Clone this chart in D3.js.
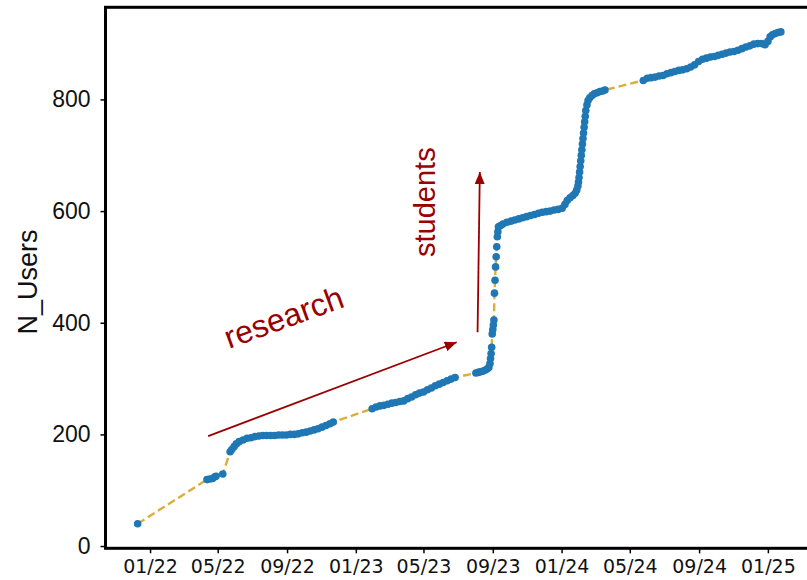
<!DOCTYPE html>
<html><head><meta charset="utf-8">
<script src="https://cdn.jsdelivr.net/npm/d3@7"></script>
<style>body{margin:0;background:#fff;}svg{display:block;}</style>
</head><body>
<svg id="c" width="807" height="580"></svg>
<script>
const dates = [
"2021-12-10",
"2022-04-12","2022-04-17","2022-04-22","2022-04-26","2022-04-28","2022-05-10",
"2022-05-23","2022-05-26","2022-05-30","2022-06-03","2022-06-08","2022-06-15","2022-06-22","2022-06-29",
"2022-07-06","2022-07-13","2022-07-20","2022-07-27","2022-08-03","2022-08-10","2022-08-17","2022-08-24",
"2022-08-31","2022-09-07","2022-09-14","2022-09-21","2022-09-28","2022-10-05","2022-10-12","2022-10-19",
"2022-10-26","2022-11-02","2022-11-09","2022-11-16","2022-11-22",
"2023-01-30","2023-02-06","2023-02-13","2023-02-20","2023-02-27","2023-03-06","2023-03-13","2023-03-20",
"2023-03-27","2023-04-03","2023-04-10","2023-04-17","2023-04-24","2023-05-01","2023-05-08","2023-05-15",
"2023-05-22","2023-05-29","2023-06-05","2023-06-12","2023-06-19","2023-06-26",
"2023-08-02","2023-08-06","2023-08-10","2023-08-14","2023-08-18","2023-08-22","2023-08-25",
"2023-08-27","2023-08-28","2023-08-29","2023-08-30","2023-08-31","2023-09-01","2023-09-02","2023-09-03",
"2023-09-04","2023-09-05","2023-09-06","2023-09-07","2023-09-08","2023-09-09","2023-09-10","2023-09-11",
"2023-09-15","2023-09-19","2023-09-26","2023-10-03","2023-10-10","2023-10-17","2023-10-24","2023-10-31",
"2023-11-07","2023-11-14","2023-11-21","2023-11-28","2023-12-05","2023-12-12","2023-12-19","2023-12-26",
"2024-01-02","2024-01-07","2024-01-11","2024-01-16","2024-01-21","2024-01-25","2024-01-28",
"2024-01-30","2024-01-31","2024-02-01","2024-02-02","2024-02-03","2024-02-04","2024-02-05","2024-02-06",
"2024-02-07","2024-02-08","2024-02-09","2024-02-10","2024-02-11","2024-02-12","2024-02-13","2024-02-15",
"2024-02-17","2024-02-20","2024-02-24","2024-02-28","2024-03-04","2024-03-09","2024-03-14","2024-03-18",
"2024-05-25","2024-06-01","2024-06-08","2024-06-15","2024-06-22","2024-06-29","2024-07-06","2024-07-13",
"2024-07-20","2024-07-27","2024-08-03","2024-08-10","2024-08-17","2024-08-24","2024-08-31","2024-09-07",
"2024-09-14","2024-09-21","2024-09-28","2024-10-05","2024-10-12","2024-10-19","2024-10-26","2024-11-02",
"2024-11-09","2024-11-16","2024-11-23","2024-11-30","2024-12-07","2024-12-14","2024-12-21","2024-12-27",
"2025-01-01","2025-01-05","2025-01-09","2025-01-14","2025-01-19","2025-01-24"
];
const users = [
40,
119,120,121,124,125,129,
169,173,178,183,187,190,193,194,
196,197,198,198,198,198,199,199,
199,200,200,201,203,204,206,208,
210,213,216,219,222,
246,249,251,252,254,256,257,259,
260,264,267,271,274,276,280,283,
287,290,293,296,299,302,
310,311,312,313,315,317,320,
327,336,345,356,380,388,396,405,
453,476,500,518,536,554,563,572,
574,577,580,582,584,586,588,590,
592,594,596,598,599,600,602,603,
605,612,619,624,628,632,638,
645,652,660,670,680,690,700,710,
720,730,740,750,760,770,780,790,
798,803,807,810,812,814,815,817,
834,838,839,840,842,843,846,848,
850,852,853,855,858,862,868,872,
874,876,877,879,881,883,885,886,
888,891,894,896,899,900,900,898,
904,912,916,918,920,921
];
const yTicks = [0, 200, 400, 600, 800];
const yLabel = "N_Users";
const annotations = [
  {text: "research", date: "2022-05-21", value: 353, angle: -20, size: 32},
  {text: "students", date: "2023-05-22", value: 616, angle: -90, size: 29}
];
const arrows = [
  {from: ["2022-04-14", 197], to: ["2023-06-29", 365]},
  {from: ["2023-08-05", 383], to: ["2023-08-09", 670]}
];

const parse = d3.timeParse("%Y-%m-%d");
const data = dates.map((d, i) => ({date: parse(d), v: users[i]}));

const L = 105.5, R = 813, T = 7.3, B = 548.3;
const xe = d3.extent(data, d => d.date);
const xs = +xe[1] - +xe[0];
const x = d3.scaleTime()
  .domain([new Date(+xe[0] - xs * 0.05), new Date(+xe[1] + xs * 0.05)])
  .range([L, R]);
const ye = d3.extent(data, d => d.v);
const ys = ye[1] - ye[0];
const y = d3.scaleLinear().domain([ye[0] - ys * 0.05, ye[1] + ys * 0.05]).range([B, T]);

const svg = d3.select("#c");
const red = "#9a0000";

// line
svg.append("path")
  .datum(data)
  .attr("fill", "none")
  .attr("stroke", "#dbae3c")
  .attr("stroke-width", 2.4)
  .attr("stroke-dasharray", "8,4")
  .attr("d", d3.line().x(d => x(d.date)).y(d => y(d.v)));

// dots
svg.append("g").selectAll("circle").data(data).join("circle")
  .attr("cx", d => x(d.date)).attr("cy", d => y(d.v))
  .attr("r", 3.8).attr("fill", "#1f77b4");

// axes
const xAxis = d3.axisBottom(x).tickValues(d3.timeMonth.every(4).range(new Date(2022,0,1), new Date(2025,1,1)))
  .tickFormat(d3.timeFormat("%m/%y")).tickSize(5).tickPadding(6);
const gx = svg.append("g").attr("transform", `translate(0,${B})`).call(xAxis);
gx.select(".domain").remove();
gx.selectAll("line").attr("stroke", "#000").attr("stroke-width", 1.5);
gx.selectAll("text").attr("font-family", "DejaVu Sans").attr("font-size", 19).attr("fill", "#111");

const yAxis = d3.axisLeft(y).tickValues(yTicks).tickSize(5).tickPadding(10);
const gy = svg.append("g").attr("transform", `translate(${L},0)`).call(yAxis);
gy.select(".domain").remove();
gy.selectAll("line").attr("stroke", "#000").attr("stroke-width", 1.5);
gy.selectAll("text").attr("font-family", "Liberation Sans, Arial").attr("font-size", 23).attr("fill", "#111");

// frame
svg.append("rect").attr("x", L).attr("y", T).attr("width", R - L).attr("height", B - T)
  .attr("fill", "none").attr("stroke", "#000").attr("stroke-width", 3);

// y label
svg.append("text").attr("transform", `translate(37,${(y(400)+y(600))/2 + 15}) rotate(-90)`)
  .attr("text-anchor", "middle").attr("font-family", "Liberation Sans, Arial").attr("font-size", 27)
  .attr("fill", "#111").text(yLabel);

// arrows
const defs = svg.append("defs");
defs.append("marker").attr("id", "ah").attr("viewBox", "0 0 12 10").attr("refX", 12).attr("refY", 5)
  .attr("markerWidth", 12).attr("markerHeight", 10).attr("markerUnits", "userSpaceOnUse").attr("orient", "auto")
  .append("path").attr("d", "M0,0 L12,5 L0,10 Z").attr("fill", red);
arrows.forEach(a => {
  svg.append("line")
    .attr("x1", x(parse(a.from[0]))).attr("y1", y(a.from[1]))
    .attr("x2", x(parse(a.to[0]))).attr("y2", y(a.to[1]))
    .attr("stroke", red).attr("stroke-width", 1.8).attr("marker-end", "url(#ah)");
});

// annotation text
annotations.forEach(a => {
  const px = x(parse(a.date)), py = y(a.value);
  const t = svg.append("text").attr("font-family", "Liberation Sans, Arial").attr("font-size", a.size)
    .attr("fill", red).text(a.text);
  if (a.angle === -90) {
    t.attr("text-anchor", "middle").attr("transform", `translate(${px},${py}) rotate(-90)`);
  } else {
    t.attr("text-anchor", "start").attr("transform", `translate(${px},${py}) rotate(${a.angle})`);
  }
});
</script>
</body></html>
